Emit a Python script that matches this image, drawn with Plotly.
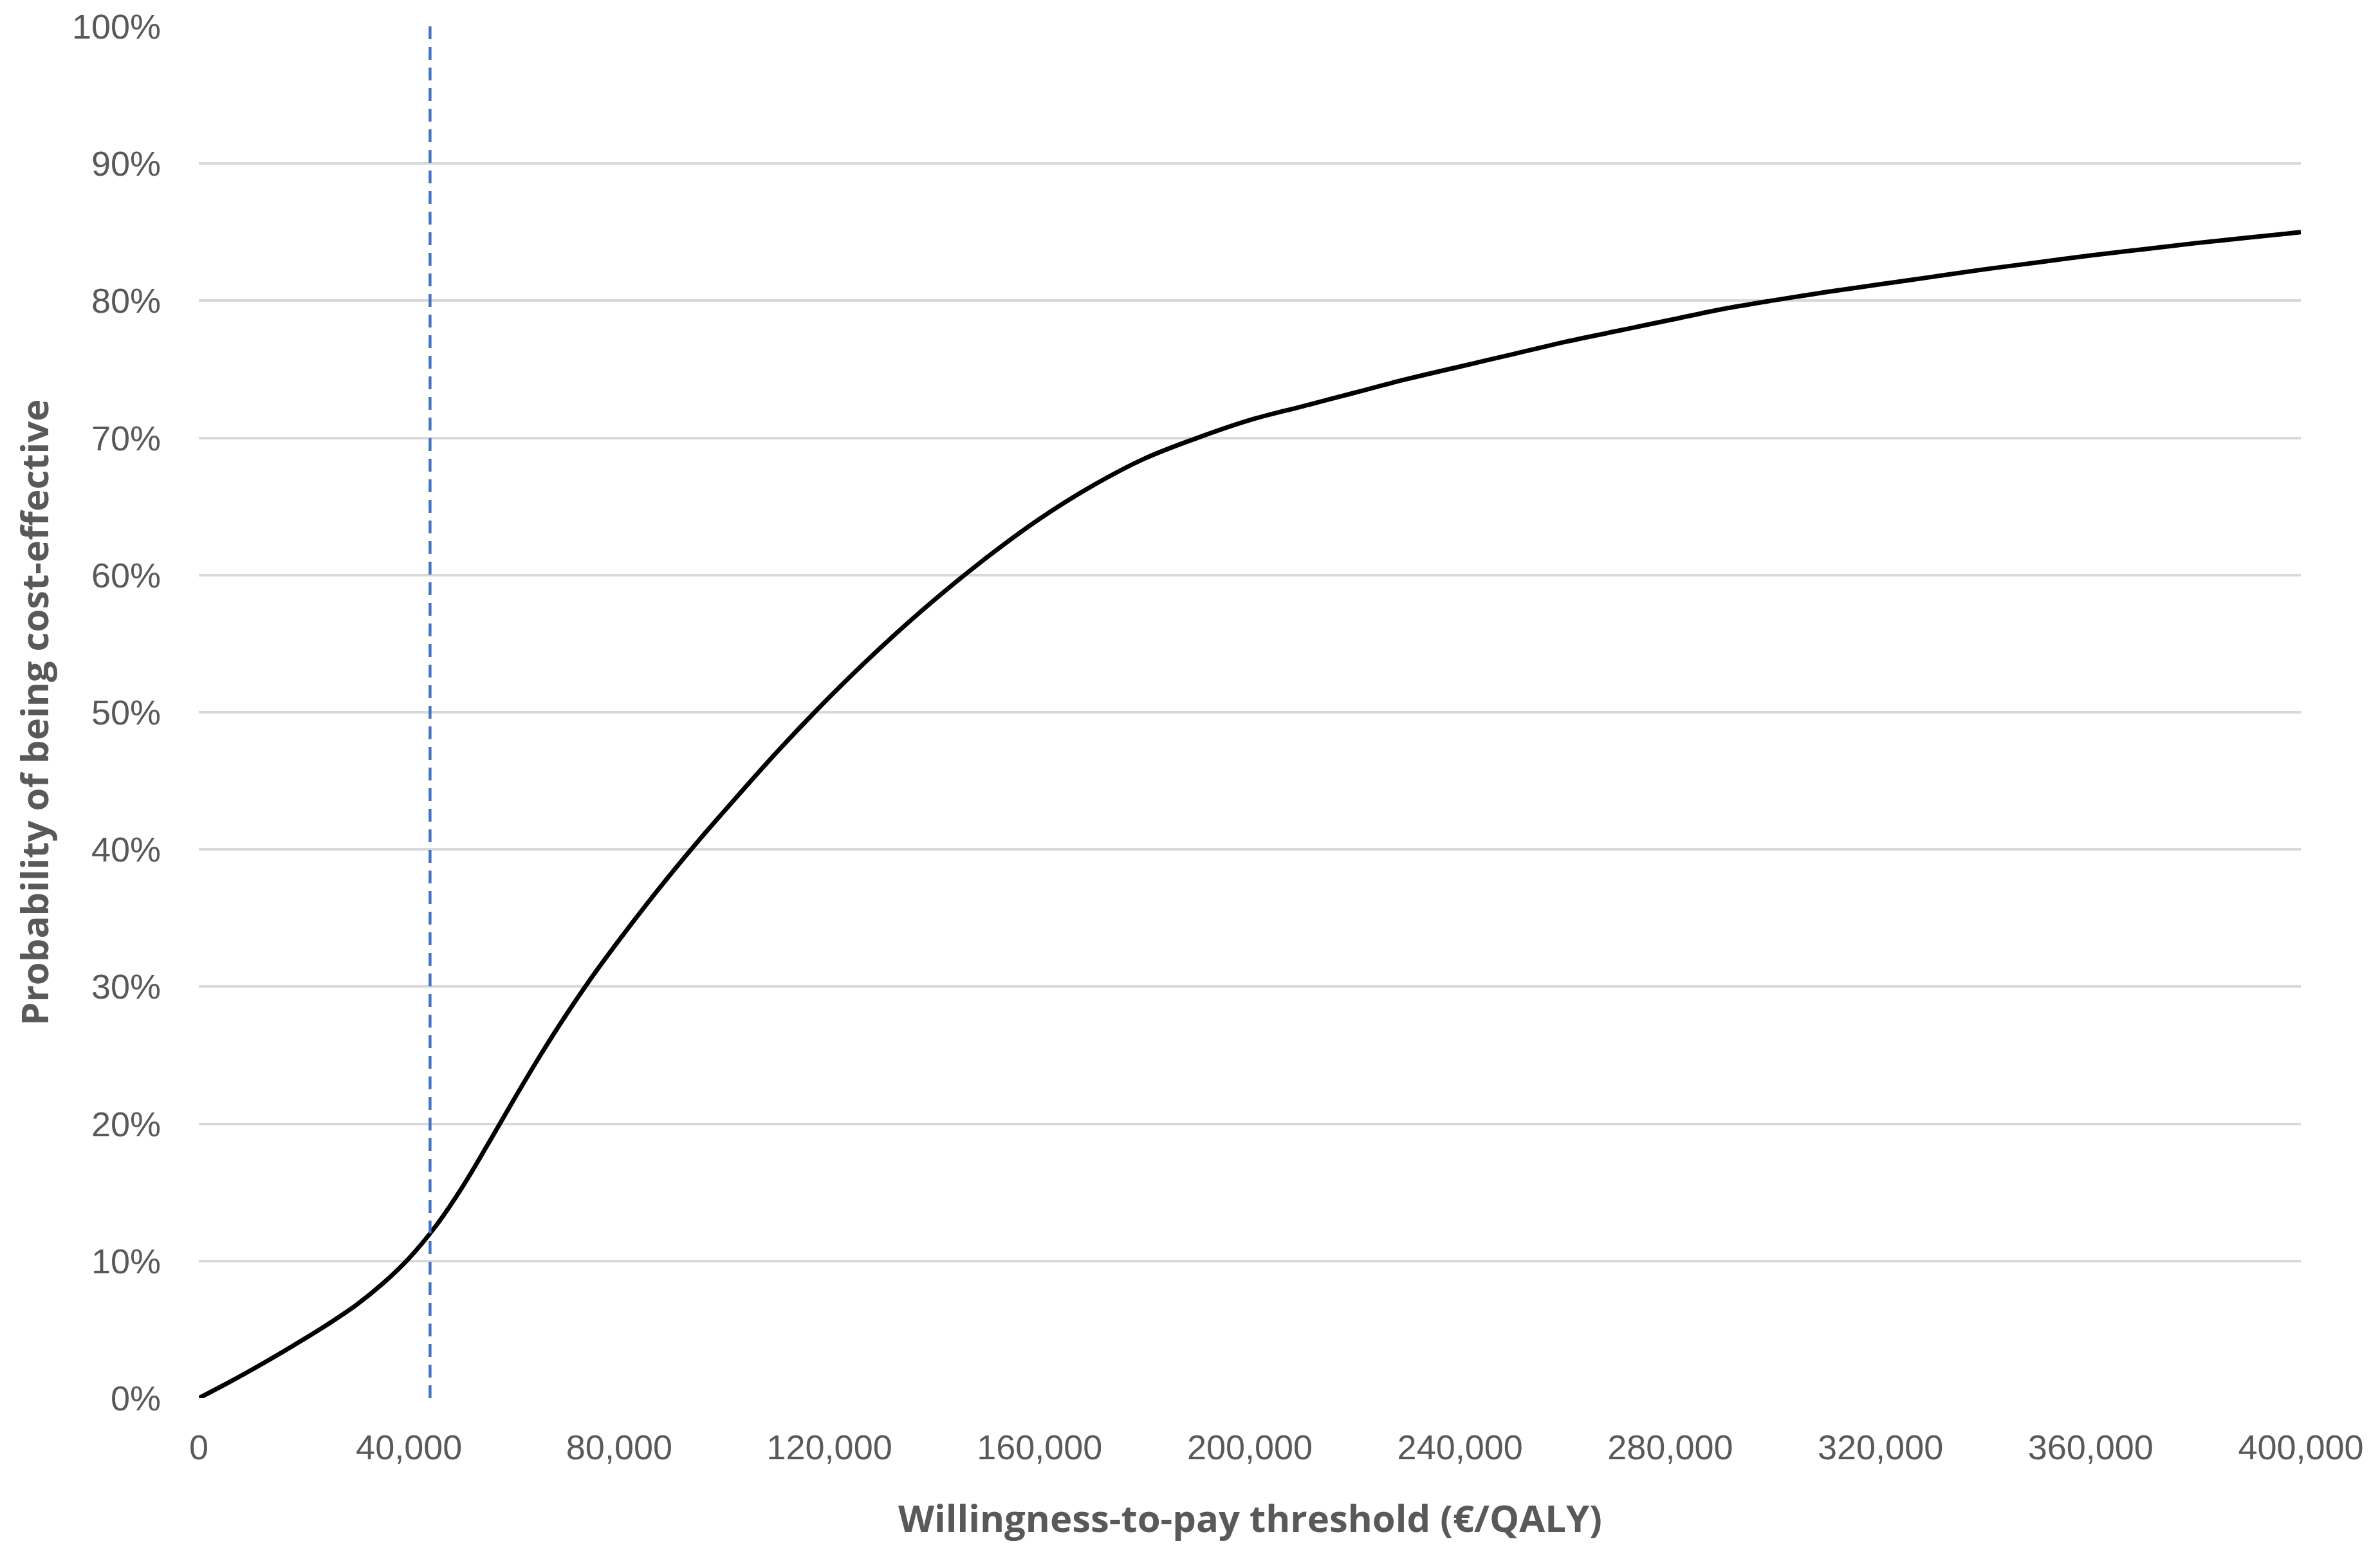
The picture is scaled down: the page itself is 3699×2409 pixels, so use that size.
import plotly.graph_objects as go

# Willingness-to-pay threshold (EUR/QALY)
wtp = [0, 5000, 10000, 15000, 20000, 25000, 30000, 35000, 40000, 45000,
       50000, 55000, 60000, 65000, 70000, 75000, 80000, 85000, 90000, 95000,
       100000, 110000, 120000, 130000, 140000, 150000, 160000, 170000, 180000, 190000,
       200000, 210000, 220000, 230000, 240000, 250000, 260000, 270000, 280000, 290000,
       300000, 310000, 320000, 330000, 340000, 350000, 360000, 370000, 380000, 390000,
       400000]
# Probability of being cost-effective
prob = [0.000, 0.010, 0.0205, 0.0315, 0.043, 0.055, 0.068, 0.0835, 0.102, 0.125,
        0.153, 0.185, 0.218, 0.250, 0.280, 0.308, 0.334, 0.359, 0.383, 0.406,
        0.428, 0.471, 0.511, 0.548, 0.582, 0.613, 0.641, 0.665, 0.685, 0.700,
        0.713, 0.723, 0.733, 0.743, 0.752, 0.761, 0.770, 0.778, 0.786, 0.794,
        0.8005, 0.8065, 0.812, 0.8175, 0.823, 0.828, 0.833, 0.8375, 0.842, 0.846,
        0.850]

# Threshold reference line
threshold_x = [44000, 44000]
threshold_y = [0.0, 1.0]

x_ticks = [0, 40000, 80000, 120000, 160000, 200000, 240000, 280000, 320000, 360000, 400000]
y_ticks = [0, 0.1, 0.2, 0.3, 0.4, 0.5, 0.6, 0.7, 0.8, 0.9, 1.0]

x_title = "Willingness-to-pay threshold (€/QALY)"
y_title = "Probability of being cost-effective"

FONT = "Open Sans"
TICK_FONT = "Liberation Sans"
GREY = "#595959"

fig = go.Figure()
fig.add_trace(go.Scatter(
    x=wtp, y=prob, mode="lines",
    line=dict(color="black", width=7, shape="spline", smoothing=1.0),
    showlegend=False, cliponaxis=False,
))
fig.add_trace(go.Scatter(
    x=threshold_x, y=threshold_y, mode="lines",
    line=dict(color="#4472C4", width=4.5, dash="20px,12px"),
    showlegend=False, cliponaxis=False,
))

fig.add_annotation(
    text=f"<b>{x_title}</b>", xref="paper", yref="paper",
    x=0.5, y=-0.0871, xanchor="center", yanchor="middle", showarrow=False,
    font=dict(family=FONT, size=58, color=GREY),
)
fig.add_annotation(
    text=f"<b>{y_title}</b>", xref="paper", yref="paper",
    x=-0.0787, y=0.5, xanchor="center", yanchor="middle", showarrow=False,
    textangle=-90, font=dict(family=FONT, size=58, color=GREY),
)

fig.update_layout(
    width=3699, height=2409,
    margin=dict(l=301, r=131, t=33, b=244, autoexpand=False),
    paper_bgcolor="white", plot_bgcolor="white",
    font=dict(family=FONT, color=GREY),
    xaxis=dict(
        range=[0, 400000], tickvals=x_ticks, tickformat=",",
        showgrid=False, zeroline=False, showline=False, automargin=False,
        ticks="", ticklabelstandoff=40, ticklabeloverflow="allow",
        tickfont=dict(family=TICK_FONT, size=54, color=GREY),
    ),
    yaxis=dict(
        range=[0, 1], tickvals=y_ticks, tickformat=".0%",
        showgrid=True, gridcolor="#D9D9D9", gridwidth=4, automargin=False,
        zeroline=False, showline=False, ticks="", ticklabelstandoff=58,
        ticklabeloverflow="allow",
        tickfont=dict(family=TICK_FONT, size=54, color=GREY),
    ),
)

fig.write_html("out.html")
